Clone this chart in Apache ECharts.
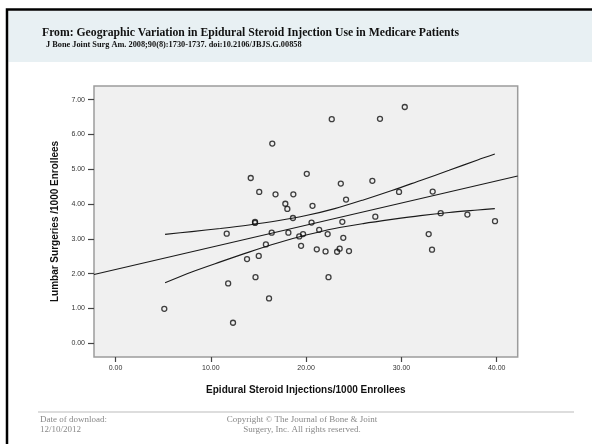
<!DOCTYPE html>
<html><head><meta charset="utf-8">
<script src="https://cdn.jsdelivr.net/npm/echarts@6/dist/echarts.min.js"></script>
<style>html,body{margin:0;padding:0;background:#fff;}#c{width:592px;height:444px;}</style>
</head><body><div id="c"></div>
<script>
// Epidural steroid injections per 1000 enrollees (x) vs lumbar surgeries per 1000 enrollees (y)
const injections = [5.12, 11.67, 11.82, 12.33, 13.80, 14.19, 14.64, 14.64, 14.69, 15.03,
  15.08, 15.78, 16.11, 16.39, 16.45, 16.79, 17.82, 18.03, 18.14, 18.62,
  18.66, 19.28, 19.47, 19.68, 20.07, 20.57, 20.67, 21.12, 21.37, 22.04,
  22.26, 22.35, 22.69, 23.25, 23.52, 23.64, 23.80, 23.90, 24.19, 24.50,
  26.95, 27.26, 27.75, 29.75, 30.35, 32.86, 33.21, 33.28, 34.12, 36.92, 39.82];
const surgeries = [0.99, 3.15, 1.72, 0.59, 2.42, 4.75, 3.49, 3.46, 1.90, 2.51,
  4.35, 2.84, 1.29, 3.18, 5.74, 4.28, 4.01, 3.86, 3.18, 3.60,
  4.28, 3.07, 2.80, 3.14, 4.87, 3.47, 3.95, 2.70, 3.26, 2.64,
  3.14, 1.90, 6.44, 2.63, 2.72, 4.59, 3.49, 3.03, 4.13, 2.65,
  4.67, 3.64, 6.45, 4.35, 6.79, 3.14, 2.69, 4.36, 3.74, 3.70, 3.51];
// fitted regression line (end points at the plot edges)
const fitX = [-2.256, 42.2];
const fitY = [1.976, 4.81];
// 95% confidence band for the mean
const bandX  = [5.2, 8, 11, 14, 17, 20, 23, 26, 29, 32, 35, 38, 39.8];
const upperY = [3.13, 3.21, 3.30, 3.40, 3.52, 3.67, 3.87, 4.12, 4.39, 4.68, 4.97, 5.27, 5.44];
const lowerY = [1.74, 2.05, 2.34, 2.62, 2.88, 3.11, 3.30, 3.44, 3.56, 3.67, 3.76, 3.83, 3.87];
const xTicks = [0, 10, 20, 30, 40];
const yTicks = [0, 1, 2, 3, 4, 5, 6, 7];

const pts = injections.map((x, i) => [x, surgeries[i]]);
const fit = fitX.map((x, i) => [x, fitY[i]]);
const up = bandX.map((x, i) => [x, upperY[i]]);
const lo = bandX.map((x, i) => [x, lowerY[i]]);

const chart = echarts.init(document.getElementById('c'), null, {renderer: 'canvas'});
const lineStyle = {color: '#1a1a1a', width: 1.1};
const sans = 'Liberation Sans, Arial, sans-serif';
chart.setOption({
  animation: false,
  backgroundColor: '#fff',
  grid: {left: 94, top: 86, width: 423.7, height: 271, show: true,
         backgroundColor: '#f0f0f0', borderColor: '#9c9c9c', borderWidth: 1.5},
  xAxis: {
    type: 'value', min: -2.256, max: 42.2,
    splitLine: {show: false}, axisLine: {show: false, onZero: false},
    axisTick: {show: true, length: 5, customValues: xTicks, lineStyle: {color: '#444', width: 1.2}},
    axisLabel: {customValues: xTicks, formatter: v => v.toFixed(2), fontSize: 7,
                color: '#333', fontFamily: sans, margin: 8},
    name: 'Epidural Steroid Injections/1000 Enrollees', nameLocation: 'middle', nameGap: 28,
    nameTextStyle: {fontSize: 10, fontWeight: 'bold', color: '#111', fontFamily: sans}
  },
  yAxis: {
    type: 'value', min: -0.394, max: 7.394,
    splitLine: {show: false}, axisLine: {show: false, onZero: false},
    axisTick: {show: true, length: 6, customValues: yTicks, lineStyle: {color: '#444', width: 1.2}},
    axisLabel: {customValues: yTicks, formatter: v => v.toFixed(2), fontSize: 7,
                color: '#333', fontFamily: sans, margin: 9},
    name: 'Lumbar Surgeries /1000 Enrollees', nameLocation: 'middle', nameGap: 30,
    nameTextStyle: {fontSize: 10, fontWeight: 'bold', color: '#111', fontFamily: sans}
  },
  series: [
    {type: 'line', data: fit, showSymbol: false, lineStyle: lineStyle, z: 3},
    {type: 'line', data: up, showSymbol: false, smooth: 0.3, lineStyle: lineStyle, z: 3},
    {type: 'line', data: lo, showSymbol: false, smooth: 0.3, lineStyle: lineStyle, z: 3},
    {type: 'scatter', data: pts, symbol: 'circle', symbolSize: 5,
     itemStyle: {color: 'rgba(0,0,0,0)', borderColor: '#111', borderWidth: 1.3}, z: 4}
  ],
  graphic: [
    {type: 'rect', shape: {x: 8.5, y: 10.7, width: 600, height: 51.3}, style: {fill: '#e8f0f3'}, silent: true},
    {type: 'rect', shape: {x: 7, y: 9.5, width: 700, height: 600}, style: {fill: 'none', stroke: '#000', lineWidth: 2.5}, silent: true},
    {type: 'text', x: 42, y: 33, style: {text: 'From: Geographic Variation in Epidural Steroid Injection Use in Medicare Patients',
      font: 'bold 11.7px "Liberation Serif", serif', fill: '#111', textVerticalAlign: 'middle'}},
    {type: 'text', x: 46, y: 45, style: {text: 'J Bone Joint Surg Am. 2008;90(8):1730-1737. doi:10.2106/JBJS.G.00858',
      font: 'bold 8.3px "Liberation Serif", serif', fill: '#111', textVerticalAlign: 'middle'}},
    {type: 'line', shape: {x1: 38, y1: 412, x2: 574, y2: 412}, style: {stroke: '#bbb', lineWidth: 1}},
    {type: 'text', x: 40, y: 420, style: {text: 'Date of download:', font: '9px "Liberation Serif", serif', fill: '#888', textVerticalAlign: 'middle'}},
    {type: 'text', x: 40, y: 430, style: {text: '12/10/2012', font: '9px "Liberation Serif", serif', fill: '#888', textVerticalAlign: 'middle'}},
    {type: 'text', x: 302, y: 420, style: {text: 'Copyright \u00a9 The Journal of Bone & Joint', font: '9px "Liberation Serif", serif', fill: '#888', textAlign: 'center', textVerticalAlign: 'middle'}},
    {type: 'text', x: 302, y: 430, style: {text: 'Surgery, Inc. All rights reserved.', font: '9px "Liberation Serif", serif', fill: '#888', textAlign: 'center', textVerticalAlign: 'middle'}}
  ]
});
</script>
</body></html>
